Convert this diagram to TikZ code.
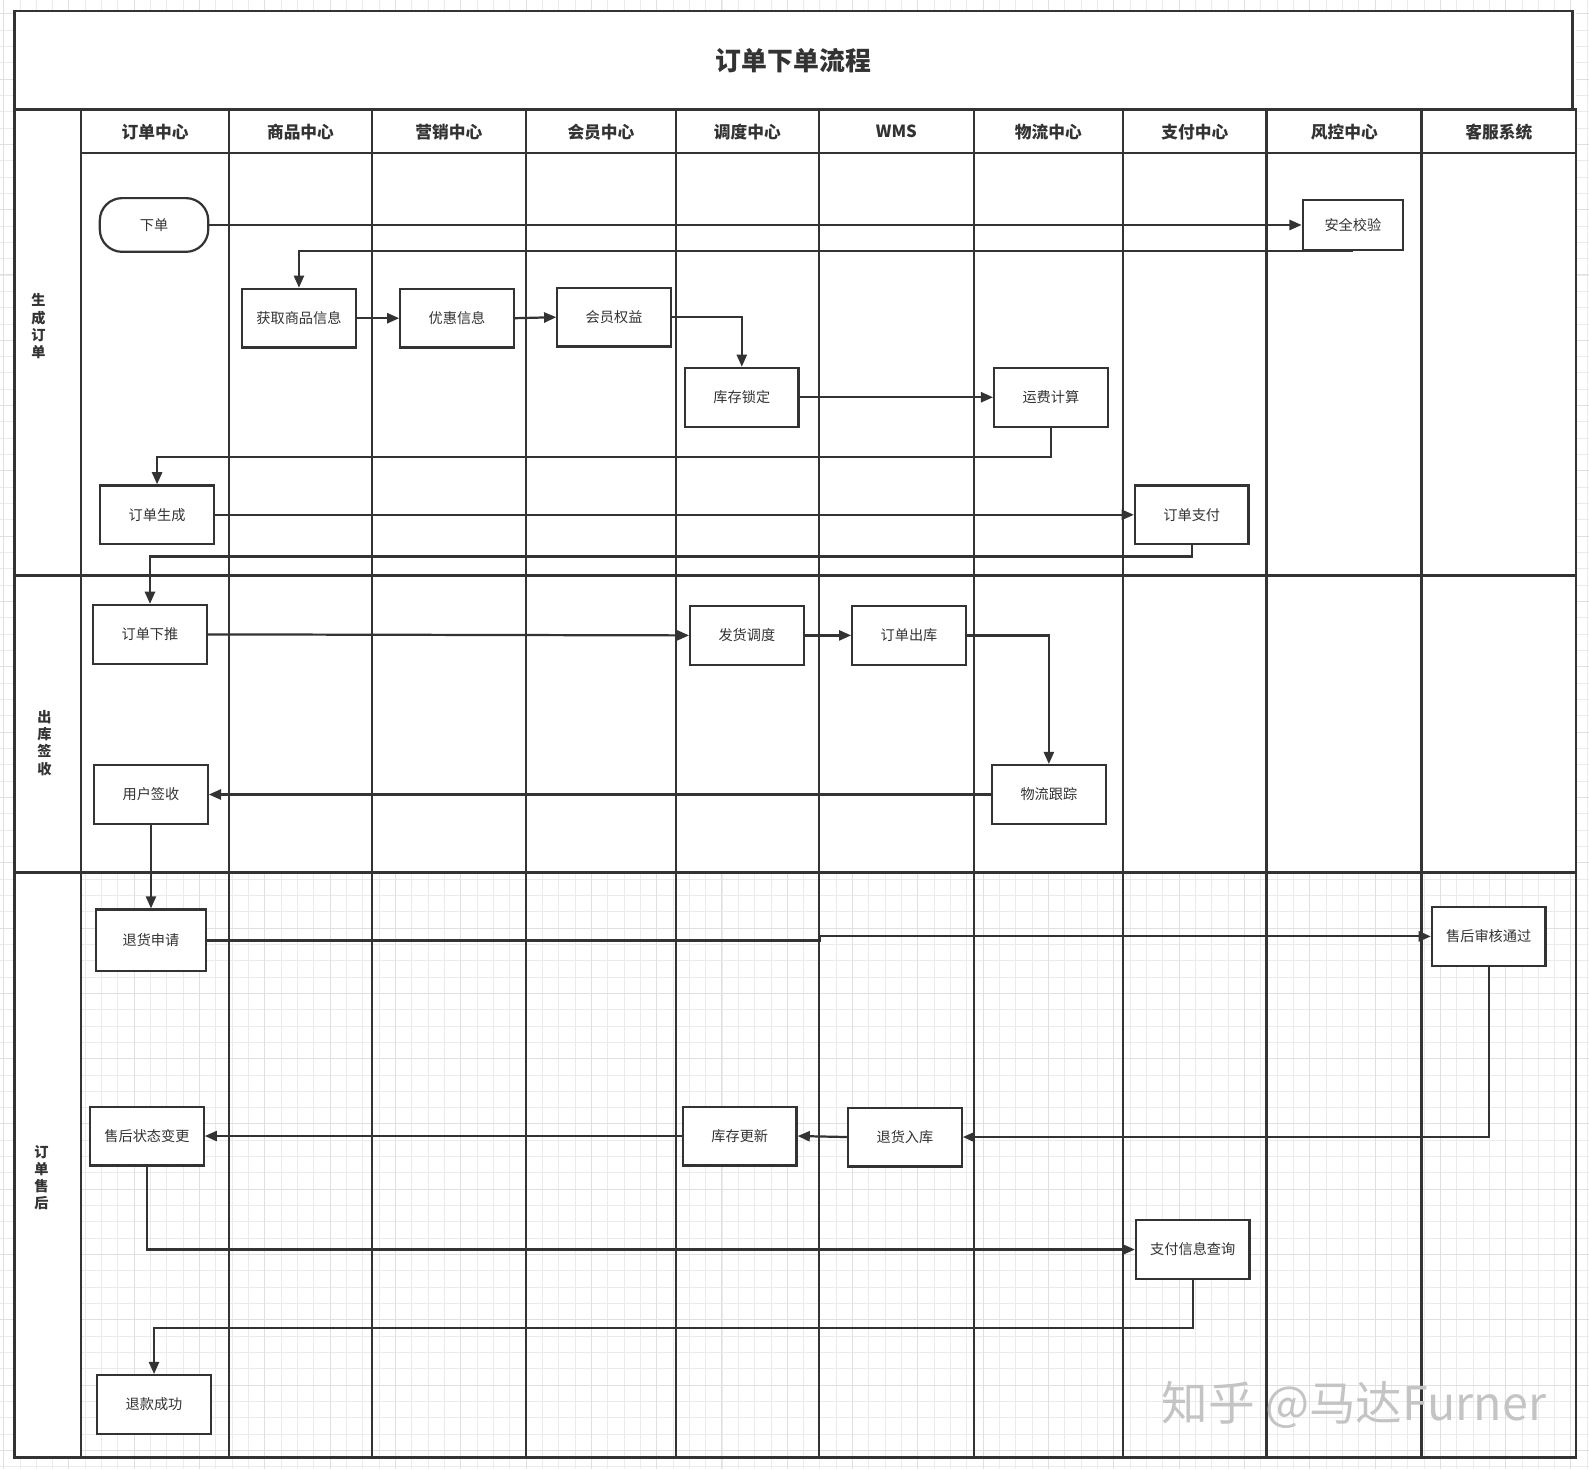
\documentclass[tikz,border=0pt]{standalone}
\usepackage{fontspec}
\setmainfont{Noto Sans CJK SC}
\usetikzlibrary{arrows.meta}
\definecolor{ln}{HTML}{333333}
\definecolor{gridc}{HTML}{EBEBEB}
\definecolor{gridm}{HTML}{E0E0E0}
\definecolor{wmc}{HTML}{C4C4C4}
\tikzset{
  frame/.style={draw=ln, line width=2.6},
  gridline/.style={draw=gridc, line width=0.9},
  gridmajor/.style={draw=gridm, line width=1},
  box/.style={draw=ln, fill=white, line width=2.2, minimum width=112bp, minimum height=58bp,
    inner sep=0pt, font=\fontsize{14bp}{16bp}\selectfont, text=ln},
  stadium/.style={box, rounded corners=22bp, minimum width=107bp, minimum height=53bp},
  arr/.style={draw=ln, line width=2.2, -{Triangle[length=12bp,width=10bp]}},
  hdr/.style={font=\bfseries\fontsize{16.5bp}{18bp}\selectfont, text=ln},
  lanelbl/.style={font=\bfseries\fontsize{14bp}{17bp}\selectfont, text=ln, align=center},
}
\begin{document}
\begin{tikzpicture}[x=1bp,y=-1bp]
\useasboundingbox (0,0) rectangle (1568,1449.6);
% background grid
\foreach \k in {0,...,97} {\draw[gridline] ({3.6+\k*16.11},0) -- ({3.6+\k*16.11},1449.6);}
\foreach \k in {0,...,89} {\draw[gridline] (0,{13.6+\k*16.11}) -- (1568,{13.6+\k*16.11});}
\foreach \k in {0,4,...,96} {\draw[gridmajor] ({3.6+\k*16.11},0) -- ({3.6+\k*16.11},1449.6);}
\foreach \k in {0,4,...,88} {\draw[gridmajor] (0,{13.6+\k*16.11}) -- (1568,{13.6+\k*16.11});}
% white areas
\fill[white] (14,11) rectangle (1555,861);
\fill[white] (14,861) rectangle (80,1438);
% frame
\draw[frame] (14,108) -- (14,11) -- (1552,11) -- (1552,108);
\draw[frame] (14,108) rectangle (1555,1438);
\draw[frame] (80,151) -- (1555,151);
\draw[frame] (14,568) -- (1555,568);
\draw[frame] (14,861) -- (1555,861);
\foreach \x in {80,226,367,519,667,808,961,1108,1250,1403} {\draw[frame] (\x,108) -- (\x,1438);}
% title
\node[font=\bfseries\fontsize{25.5bp}{28bp}\selectfont, text=ln] (title) at (783,60) {订单下单流程};
% headers
\node[hdr] (h1) at (153,130) {订单中心};
\node[hdr] (h2) at (296.5,130) {商品中心};
\node[hdr] (h3) at (443,130) {营销中心};
\node[hdr] (h4) at (593,130) {会员中心};
\node[hdr] (h5) at (737.5,130) {调度中心};
\node[hdr] (h6) at (884.5,130) {WMS};
\node[hdr] (h7) at (1034.5,130) {物流中心};
\node[hdr] (h8) at (1179,130) {支付中心};
\node[hdr] (h9) at (1326.5,130) {风控中心};
\node[hdr] (h10) at (1479,130) {客服系统};
% lane labels
\node[lanelbl] (l1) at (38,322) {生\\成\\订\\单};
\node[lanelbl] (l2) at (44,733) {出\\库\\签\\收};
\node[lanelbl] (l3) at (41,1162) {订\\单\\售\\后};
% nodes
\node[stadium] (xd) at (152,222) {下单};
\node[box, minimum width=99bp, minimum height=49bp] (aq) at (1335,222) {安全校验};
\node[box] (hq) at (295,314) {获取商品信息};
\node[box] (yh) at (451,314) {优惠信息};
\node[box] (hy) at (606,313) {会员权益};
\node[box] (kc) at (732,392) {库存锁定};
\node[box] (yf) at (1037,392) {运费计算};
\node[box] (dd) at (155,508) {订单生成};
\node[box] (zf) at (1176,508) {订单支付};
\node[box] (tx) at (148,626) {订单下推};
\node[box] (fh) at (737,627) {发货调度};
\node[box] (ck) at (897,627) {订单出库};
\node[box] (wl) at (1035,784) {物流跟踪};
\node[box] (qs) at (149,784) {用户签收};
\node[box, minimum width=108bp, minimum height=61bp] (th) at (149,928) {退货申请};
\node[box] (sh) at (1469,924) {售后审核通过};
\node[box] (zt) at (145,1121) {售后状态变更};
\node[box] (ku) at (730,1121) {库存更新};
\node[box] (ru) at (893,1122) {退货入库};
\node[box] (cx) at (1177,1233) {支付信息查询};
\node[box] (tk) at (152,1386) {退款成功};
% connectors
\draw[arr] (xd.east) -- (aq.west);
\draw[arr] (aq.south) -| (hq.north);
\draw[arr] (hq.east) -- (yh.west);
\draw[arr] (yh.east) -- (hy.west);
\draw[arr] (hy.east) -| (kc.north);
\draw[arr] (kc.east) -- (yf.west);
\draw[arr] (yf.south) -- ++(0,29) -| (dd.north);
\draw[arr] (dd.east) -- (zf.west);
\draw[arr] (zf.south) -- ++(0,11) -| (tx.north);
\draw[arr] (tx.east) -- (fh.west);
\draw[arr] (fh.east) -- (ck.west);
\draw[arr] (ck.east) -| (wl.north);
\draw[arr] (wl.west) -- (qs.east);
\draw[arr] (qs.south) -- (th.north);
\draw[arr] (th.east) -- ++(605,0) |- (sh.west);
\draw[arr] (sh.south) |- (ru.east);
\draw[arr] (ru.west) -- (ku.east);
\draw[arr] (ku.west) -- (zt.east);
\draw[arr] (zt.south) |- (cx.west);
\draw[arr] (cx.south) -- ++(0,47) -| (tk.north);
% watermark
\node[text=wmc, font=\fontsize{46bp}{48bp}\selectfont, anchor=west, inner sep=0pt] (wm) at (1146,1386) {知乎 @马达Furner};
\end{tikzpicture}
\end{document}
